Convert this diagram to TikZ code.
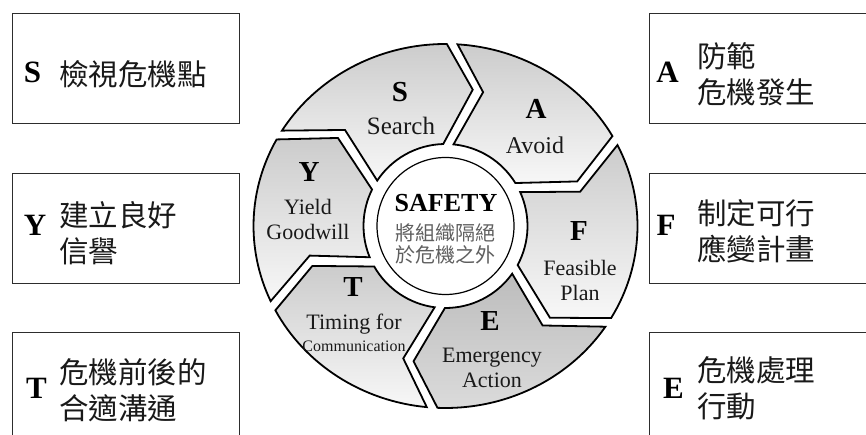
\documentclass[tikz,border=0pt]{standalone}
\usepackage{fontspec}
\setmainfont{Liberation Serif}
\newfontfamily\cjk{Noto Sans CJK TC}
\usepackage{tikz}
\usetikzlibrary{positioning, calc}
\definecolor{boxline}{RGB}{45, 45, 45}
\definecolor{coregray}{RGB}{95, 95, 95}

% one chevron piece of the ring: [extra style]{tail angle}{head angle}
\newcommand{\ringseg}[3][]{%
  \path[seg, #1] ({#2-1.6}:192pt and 182pt)
    arc[start angle={#2-1.6}, end angle={#3+1.6}, x radius=192pt, y radius=182pt]
    -- ({#3-11.5+2.2}:139pt)
    -- ({#3+3.6}:82pt)
    arc[start angle={#3+3.6}, end angle={#2-3.6}, radius=82pt]
    -- ({#2-11.5-2.2}:139pt)
    -- cycle;}

\begin{document}
\begin{tikzpicture}[x=1pt, y=1pt,
  infobox/.style={draw=boxline, line width=1.4pt, minimum width=227pt, minimum height=110pt, anchor=north west, inner sep=0pt},
  seg/.style={draw=black, line width=1.8pt, top color=black!20, bottom color=black!3},
  boxletter/.style={font=\fontsize{31}{31}\selectfont\bfseries, inner sep=0pt},
  boxtext/.style={font=\cjk\fontsize{29.5}{36}\selectfont, align=left, anchor=west, inner sep=0pt, text=black!90},
  segletter/.style={font=\fontsize{29}{29}\selectfont\bfseries, inner sep=0pt},
  seglabel/.style={font=\fontsize{22}{25}\selectfont, align=center, inner sep=0pt, text=black!90}]

  \useasboundingbox (0,0) rectangle (866,435);
  \clip (0,0) rectangle (866,435);

  % Left boxes
  \node[infobox] (boxS) at (12,422) {};
  \node[infobox] (boxY) at (12,262) {};
  \node[infobox, minimum height=115pt] (boxT) at (12,103) {};
  \node[boxletter] (keyS) at (32.5,363) {S};
  \node[boxletter] (keyY) at (35,210) {Y};
  \node[boxletter] (keyT) at (36.5,47) {T};
  \node[boxtext] (txtS) at (59,361) {檢視危機點};
  \node[boxtext] (txtY) at (59,202) {建立良好\\信譽};
  \node[boxtext] (txtT) at (59,45) {危機前後的\\合適溝通};

  % Right boxes
  \node[infobox, minimum width=240pt] (boxA) at (649,422) {};
  \node[infobox, minimum width=240pt] (boxF) at (649,262) {};
  \node[infobox, minimum width=240pt, minimum height=115pt] (boxE) at (649,103) {};
  \node[boxletter] (keyA) at (667.5,363) {A};
  \node[boxletter] (keyF) at (666,210) {F};
  \node[boxletter] (keyE) at (673.5,47) {E};
  \node[boxtext] (txtA) at (697,361) {防範\\危機發生};
  \node[boxtext] (txtF) at (697,204) {制定可行\\應變計畫};
  \node[boxtext] (txtE) at (697,47) {危機處理\\行動};

  % Ring of six chevrons, clockwise S-A-F-E-T-Y
  \begin{scope}[shift={(445.5,209)}]
    \ringseg{150}{88}
    \ringseg{88}{28}
    \ringseg{28}{-32}
    \ringseg[top color=black!26, bottom color=black!14]{-32}{-94}
    \ringseg{-94}{-154}
    \ringseg{-154}{-210}
  \end{scope}

  % Core
  \node[circle, draw, line width=1.2pt, fill=white, minimum size=137pt, inner sep=0pt] (core) at (445.5,209) {};
  \node[font=\fontsize{26}{26}\selectfont\bfseries, inner sep=0pt] (coretitle) at (446,231.5) {SAFETY};
  \node[font=\cjk\fontsize{20}{22}\selectfont, text=coregray, align=center, inner sep=0pt] (coretext) at (445,191) {將組織隔絕\\於危機之外};

  % Segment labels
  \node[segletter] (segS) at (400,343) {S};
  \node[seglabel, font=\fontsize{25}{25}\selectfont] (labS) at (401,309) {Search};
  \node[segletter] (segA) at (536,326) {A};
  \node[seglabel, font=\fontsize{24}{24}\selectfont] (labA) at (535,290) {Avoid};
  \node[segletter] (segF) at (579,204) {F};
  \node[seglabel] (labF) at (580,155) {Feasible\\Plan};
  \node[segletter] (segE) at (490,114) {E};
  \node[seglabel] (labE) at (492,67) {Emergency\\Action};
  \node[segletter] (segT) at (353,148) {T};
  \node[seglabel] (labT) at (354,102) {Timing for\\[-3pt]{\fontsize{16}{16}\selectfont Communication}};
  \node[segletter] (segY) at (309,263) {Y};
  \node[seglabel] (labY) at (308,216) {Yield\\Goodwill};
\end{tikzpicture}
\end{document}
